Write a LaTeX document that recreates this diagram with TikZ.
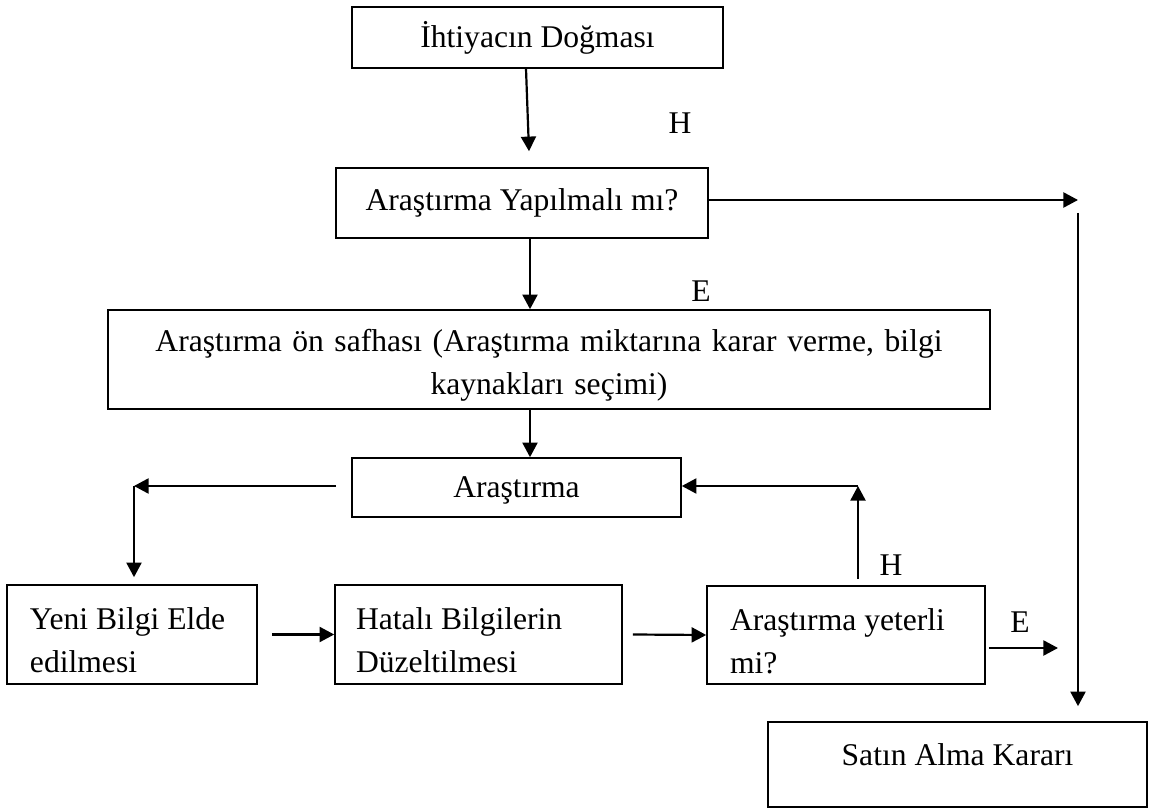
\documentclass[tikz,border=0pt]{standalone}
\usepackage{fontspec}
\setmainfont{Liberation Serif}
\usetikzlibrary{arrows.meta,positioning,calc}

\begin{document}
\begin{tikzpicture}[
  x=0.5pt,y=-0.5pt,
  font=\fontsize{15.8}{21.5}\selectfont,
  box/.style={draw,line width=0.8pt,inner sep=0pt,align=center},
  ikisatir/.style={text height=17pt},
  solbox/.style={box,ikisatir,align=flush left,inner xsep=11.5pt},
  etiket/.style={inner sep=0pt},
  ar/.style={-{Triangle[length=7.3pt,width=7.5pt]},line width=1.1pt}]
\useasboundingbox (0,0) rectangle (1153,808);

\node[box,minimum width=185.5pt,minimum height=30.5pt] (ihtiyac) at (537.5,37.5) {İhtiyacın Doğması};
\node[box,minimum width=186pt,minimum height=35pt] (yapilmali) at (522,203) {Araştırma Yapılmalı mı?};
\node[box,ikisatir,text width=430pt,minimum width=441pt,minimum height=49.5pt] (onsafha) at (549,359.5)
  {Araştırma ön safhası (Araştırma miktarına karar verme, bilgi\\ kaynakları seçimi)};
\node[box,text depth=0pt,minimum width=164.5pt,minimum height=29.5pt] (arastirma) at (516.5,487.5) {Araştırma};

\node[solbox,text width=102pt,minimum height=49.5pt] (yenibilgi) at (132,634.5) {Yeni Bilgi Elde\\ edilmesi};
\node[solbox,inner xsep=10.5pt,text width=122.5pt,minimum height=49.5pt] (hatali) at (478.5,634.5)
  {Hatalı Bilgilerin\\ Düzeltilmesi};
\node[solbox,text width=116pt,minimum height=49pt] (yeterli) at (846,635) {Araştırma yeterli\\ mi?};
\node[box,minimum width=189.5pt,minimum height=42.5pt,text depth=9.5pt] (satinalma) at (957.5,764.5)
  {Satın Alma Kararı};

\node[etiket] (h1) at (680,123) {H};
\node[etiket] (e1) at (701,291) {E};
\node[etiket] (h2) at (891,565) {H};
\node[etiket] (e2) at (1020,622) {E};

\coordinate (eks) at (530,0);
\coordinate (sagust) at (1078,200);
\coordinate (solk) at (134,486);
\coordinate (sagk) at (858,486);
\coordinate (eucu) at (1058,648);

\draw[ar] ([xshift=-5.75pt]ihtiyac.south) -- ([xshift=3.5pt,yshift=8pt]yapilmali.north);
\draw[ar] (yapilmali.south -| eks) -- (onsafha.north -| eks);
\draw[ar] (onsafha.south -| eks) -- (arastirma.north -| eks);
\draw[ar] (yapilmali.east |- sagust) -- (sagust);
\draw[ar] ([yshift=-6.5pt]sagust) -- ([yshift=7.5pt]satinalma.north -| sagust);

\draw[ar] ([xshift=-7.5pt]arastirma.west |- solk) -- (solk);
\draw[ar] (solk) -- ([yshift=3.5pt]yenibilgi.north -| solk);
\draw[ar] ([xshift=7pt]yenibilgi.east) -- (hatali.west);
\draw[ar] ([xshift=5pt]hatali.east) -- (yeterli.west);
\draw[ar] ([yshift=3pt]yeterli.north -| sagk) -- (sagk);
\draw[ar] (sagk) -- (sagk -| arastirma.east);
\draw[ar] ([xshift=1.5pt]yeterli.east |- eucu) -- (eucu);
\end{tikzpicture}
\end{document}
